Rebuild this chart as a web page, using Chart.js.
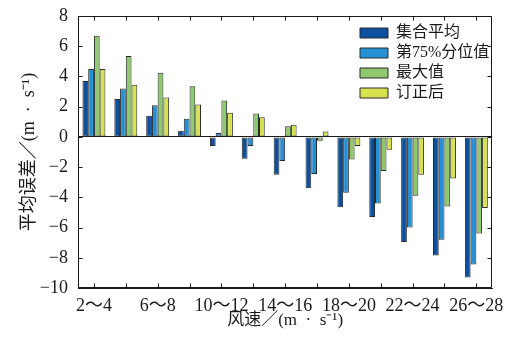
<!DOCTYPE html>
<html>
<head>
<meta charset="utf-8">
<script src="https://cdn.jsdelivr.net/npm/chart.js@4/dist/chart.umd.min.js"></script>
<style>
  html, body { margin: 0; padding: 0; background: #fff; }
  #c { display: block; }
</style>
</head>
<body>
<canvas id="c" width="511" height="339"></canvas>
<script>
// Wind-speed bins (m/s)
const categories = ['2～4', '4～6', '6～8', '8～10', '10～12', '12～14', '14～16',
                    '16～18', '18～20', '20～22', '22～24', '24～26', '26～28'];

// Mean error per bin for each forecast variant (m/s)
const ensembleMean = [3.7, 2.5, 1.4, 0.4, -0.6, -1.45, -2.5, -3.4, -4.65, -5.3, -6.95, -7.85, -9.3];
const percentile75 = [4.5, 3.2, 2.1, 1.2, 0.25, -0.6, -1.6, -2.45, -3.7, -4.4, -6.0, -6.8, -8.45];
const maximumValue = [6.7, 5.35, 4.25, 3.35, 2.4, 1.55, 0.7, -0.25, -1.5, -2.25, -3.9, -4.6, -6.4];
const corrected    = [4.5, 3.45, 2.6, 2.15, 1.6, 1.3, 0.8, 0.35, -0.6, -0.85, -2.5, -2.75, -4.7];

const seriesNames = ['集合平均', '第75%分位值', '最大值', '订正后'];

// y axis range and tick step
const yMin = -10, yMax = 8, yStep = 2;

const FONT = "'Liberation Serif', 'Noto Sans CJK SC', serif";
const INK = '#1a1a1a';
const EDGE = '#2b2b2b';

// Frame around the plot with inward tick marks on all four sides
const framePlugin = {
  id: 'frame',
  afterDraw(chart) {
    const { ctx, chartArea: a, scales } = chart;
    const L = Math.round(a.left) + 0.5, R = Math.round(a.right) - 0.5;
    const T = Math.round(a.top) + 0.5, B = Math.round(a.bottom) - 0.5;
    const len = 4;
    ctx.save();
    ctx.strokeStyle = INK;
    ctx.lineWidth = 1;
    ctx.beginPath();
    ctx.rect(L, T, R - L, B - T);
    scales.x.ticks.forEach((t, i) => {
      const px = Math.round(scales.x.getPixelForTick(i)) + 0.5;
      ctx.moveTo(px, B); ctx.lineTo(px, B - len);
      ctx.moveTo(px, T); ctx.lineTo(px, T + len);
    });
    scales.y.ticks.forEach((t, i) => {
      const py = Math.round(scales.y.getPixelForTick(i)) + 0.5;
      ctx.moveTo(L, py); ctx.lineTo(L + len, py);
      ctx.moveTo(R, py); ctx.lineTo(R - len, py);
    });
    ctx.stroke();
    ctx.restore();
  }
};

// Legend placed inside the plot, upper right
const legendPlace = {
  id: 'legendPlace',
  afterLayout(chart) {
    const lg = chart.legend;
    if (!lg) return;
    lg.left = 356;
    lg.top = 21;
  }
};

const colors = ['#0b4f9f', '#2590d3', '#8fc86e', '#d7e24e'];
const values = [ensembleMean, percentile75, maximumValue, corrected];

new Chart(document.getElementById('c'), {
  type: 'bar',
  data: {
    labels: categories,
    datasets: seriesNames.map((name, k) => ({
      label: name,
      data: values[k],
      backgroundColor: colors[k],
      borderColor: EDGE,
      borderWidth: 1,
      borderSkipped: false,
      categoryPercentage: 0.72,
      barPercentage: 1.0
    }))
  },
  options: {
    responsive: false,
    animation: false,
    devicePixelRatio: 1,
    layout: { padding: { top: 16, right: 17, left: 0, bottom: 0 } },
    plugins: {
      tooltip: { enabled: false },
      legend: {
        position: 'chartArea',
        align: 'start',
        labels: {
          boxWidth: 28,
          boxHeight: 10,
          padding: 4,
          color: INK,
          font: { family: FONT, size: 16 }
        }
      }
    },
    scales: {
      x: {
        grid: { display: false, drawTicks: false },
        border: { display: true, color: INK },
        ticks: {
          autoSkip: false,
          maxRotation: 0,
          minRotation: 0,
          padding: 7,
          color: INK,
          font: { family: FONT, size: 18 },
          callback: (v, i) => (i % 2 === 0 ? categories[i] : '')
        },
        title: {
          display: true,
          text: '风速／(m\u2002·\u2002s⁻¹)',
          color: INK,
          font: { family: FONT, size: 17 },
          padding: { top: 0, bottom: 8 }
        },
        afterFit: (s) => { s.height = 51; s.paddingTop = 0; }
      },
      y: {
        min: yMin,
        max: yMax,
        grid: {
          drawTicks: false,
          color: (c) => (c.tick && c.tick.value === 0 ? INK : 'rgba(0,0,0,0)'),
          lineWidth: 1
        },
        border: { display: true, color: INK },
        ticks: {
          stepSize: yStep,
          padding: 10,
          color: INK,
          font: { family: FONT, size: 18 },
          callback: (v) => String(v).replace('-', '−')
        },
        title: {
          display: true,
          text: '平均误差／(m\u2002·\u2002s⁻¹)',
          color: INK,
          font: { family: FONT, size: 18 },
          padding: { top: 18, bottom: 0 }
        },
        afterFit: (s) => { s.width = 78; s.paddingTop = 0; s.paddingBottom = 0; }
      }
    }
  },
  plugins: [framePlugin, legendPlace]
});
</script>
</body>
</html>
